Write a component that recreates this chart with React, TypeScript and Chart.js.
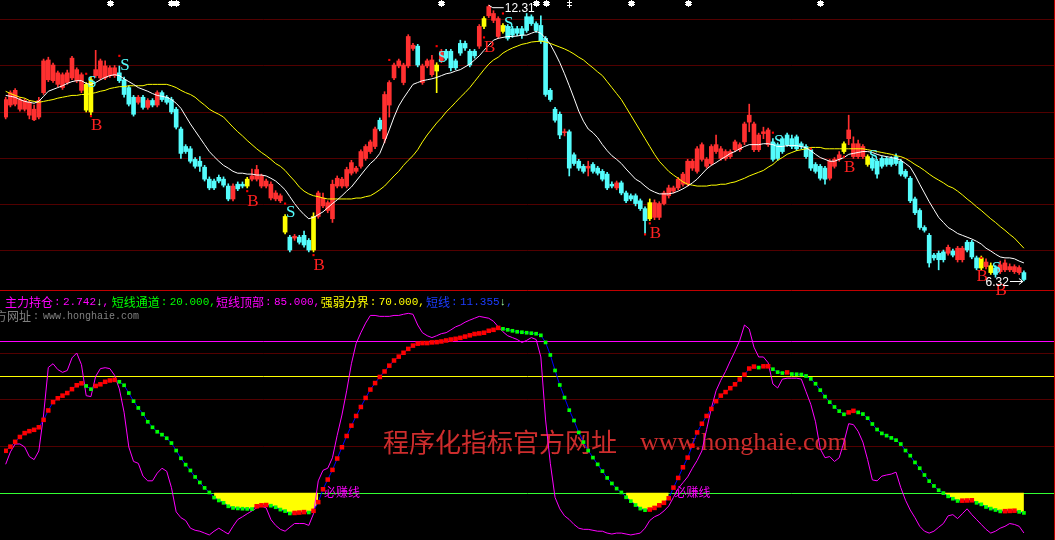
import React, { useEffect, useRef } from "react";
import { Chart, registerables } from "chart.js";
Chart.register(...registerables);

// ---------------- price panel data (216 bars) ----------------
const OPEN = [
  9.88, 10.14, 10.16, 10.05, 10.05, 9.92, 9.82, 9.88, 10.41, 10.69,
  10.67, 10.59, 10.52, 10.63, 10.73, 10.67, 10.46, 10.59, 9.99, 10.78,
  10.73, 10.73, 10.78, 10.78, 10.84, 10.69, 10.52, 10.31, 10.2, 10.31,
  10.09, 10.24, 10.14, 10.41, 10.31, 10.26, 10.05, 9.62, 9.24, 9.19,
  8.96, 8.92, 8.79, 8.53, 8.49, 8.57, 8.53, 8.38, 8.1, 8.42,
  8.42, 8.38, 8.53, 8.53, 8.38, 8.38, 8.12, 8.1, 8.06, 7.72,
  7.27, 7.25, 7.27, 7.31, 7.2, 6.99, 7.72, 7.95, 7.85, 7.67,
  8.38, 8.38, 8.38, 8.66, 8.7, 8.81, 8.98, 9.13, 9.24, 9.81,
  9.41, 10.14, 10.73, 10.99, 10.63, 10.99, 11.37, 11.42, 10.63, 10.99,
  10.8, 11.01, 11.1, 11.31, 11.31, 11.1, 11.48, 11.48, 11.31, 11.31,
  11.42, 11.85, 12.08, 11.98, 11.63, 11.87, 11.85, 11.8, 11.8, 11.8,
  12.06, 12.06, 11.91, 11.87, 11.59, 10.46, 10.05, 9.94, 9.54, 9.56,
  9.06, 8.92, 8.81, 8.77, 8.85, 8.77, 8.7, 8.64, 8.42, 8.34,
  8.45, 8.23, 8.17, 8.17, 8.06, 7.89, 7.67, 7.7, 7.7, 8.0,
  8.17, 8.27, 8.34, 8.42, 8.42, 8.77, 8.7, 8.96, 8.81, 8.87,
  9.13, 8.98, 8.98, 9.02, 9.17, 9.17, 9.34, 9.77, 9.17, 9.17,
  9.52, 9.28, 9.34, 9.28, 9.41, 9.49, 9.41, 9.45, 9.3, 9.24,
  9.17, 8.85, 8.81, 8.77, 8.55, 8.81, 8.96, 9.13, 9.41, 9.02,
  9.02, 9.02, 9.02, 8.98, 8.92, 8.98, 8.98, 8.98, 9.02, 8.92,
  8.7, 8.55, 8.1, 7.85, 7.48, 7.31, 6.88, 6.92, 6.95, 6.92,
  6.97, 6.78, 6.78, 7.16, 7.16, 6.82, 6.6, 6.63, 6.65, 6.6,
  6.52, 6.56, 6.56, 6.52, 6.5, 6.5
];
const HIGH = [
  10.31, 10.45, 10.5, 10.3, 10.28, 10.24, 10.14, 10.31, 11.14, 11.18,
  11.05, 10.88, 10.84, 10.9, 11.2, 10.95, 10.84, 10.63, 10.75, 11.33,
  11.14, 11.1, 10.99, 11.0, 10.99, 10.75, 10.56, 10.35, 10.35, 10.35,
  10.28, 10.28, 10.45, 10.45, 10.35, 10.31, 10.09, 9.66, 9.28, 9.24,
  9.0, 9.02, 8.83, 8.58, 8.53, 8.62, 8.58, 8.43, 8.43, 8.47,
  8.47, 8.57, 8.75, 8.83, 8.64, 8.53, 8.47, 8.28, 8.21, 7.76,
  7.31, 7.33, 7.31, 7.4, 7.24, 7.8, 8.27, 8.23, 8.06, 8.51,
  8.6, 8.57, 8.79, 8.94, 8.81, 9.17, 9.28, 9.38, 9.66, 9.86,
  10.43, 10.67, 11.05, 11.14, 11.05, 11.67, 11.48, 11.46, 11.03, 11.14,
  11.22, 11.06, 11.35, 11.35, 11.35, 11.14, 11.55, 11.53, 11.35, 11.35,
  11.89, 12.06, 12.31, 12.19, 12.06, 11.91, 11.89, 11.85, 11.85, 11.85,
  12.13, 12.1, 11.95, 12.08, 11.63, 10.5, 10.09, 9.99, 9.62, 9.6,
  9.1, 8.96, 8.85, 8.92, 8.89, 8.81, 8.74, 8.68, 8.47, 8.49,
  8.49, 8.27, 8.21, 8.21, 8.1, 7.93, 8.1, 8.08, 8.04, 8.27,
  8.4, 8.38, 8.57, 8.68, 8.96, 8.96, 9.24, 9.32, 9.0, 9.28,
  9.49, 9.24, 9.17, 9.17, 9.38, 9.32, 9.77, 10.16, 9.77, 9.53,
  9.66, 9.64, 9.41, 9.32, 9.45, 9.53, 9.49, 9.49, 9.34, 9.28,
  9.21, 8.89, 8.85, 8.81, 8.96, 9.0, 9.13, 9.34, 9.92, 9.45,
  9.38, 9.28, 9.06, 9.02, 8.96, 9.02, 9.02, 9.02, 9.08, 8.96,
  8.74, 8.59, 8.14, 7.89, 7.52, 7.35, 6.92, 6.97, 6.99, 7.1,
  7.01, 7.07, 7.07, 7.2, 7.2, 6.86, 6.86, 6.8, 6.71, 6.65,
  6.75, 6.78, 6.69, 6.67, 6.65, 6.54
];
const LOW = [
  9.84, 10.1, 10.12, 10.01, 10.01, 9.84, 9.8, 9.84, 10.37, 10.65,
  10.63, 10.54, 10.48, 10.59, 10.69, 10.63, 10.41, 9.99, 9.93, 10.74,
  10.69, 10.69, 10.74, 10.74, 10.63, 10.31, 10.12, 9.9, 10.16, 10.05,
  10.05, 10.1, 10.1, 10.22, 10.16, 9.95, 9.62, 8.98, 9.09, 8.88,
  8.77, 8.7, 8.49, 8.3, 8.3, 8.45, 8.36, 8.06, 8.06, 8.28,
  8.34, 8.34, 8.49, 8.49, 8.34, 8.34, 8.08, 8.06, 8.02, 7.34,
  6.95, 7.2, 7.12, 7.05, 6.95, 6.95, 7.68, 7.91, 7.8, 7.59,
  8.34, 8.34, 8.34, 8.62, 8.66, 8.77, 8.94, 9.09, 9.19, 9.58,
  9.32, 9.88, 10.69, 10.95, 10.58, 10.95, 11.33, 10.97, 10.59, 10.95,
  10.76, 10.41, 11.06, 11.12, 10.88, 10.91, 11.22, 11.33, 10.97, 11.16,
  11.37, 11.8, 12.04, 11.93, 11.59, 11.7, 11.55, 11.61, 11.65, 11.59,
  11.72, 11.87, 11.72, 11.48, 10.33, 10.22, 9.77, 9.41, 9.47, 8.6,
  8.83, 8.72, 8.66, 8.6, 8.66, 8.62, 8.49, 8.3, 8.34, 8.3,
  8.19, 8.02, 8.06, 7.95, 7.85, 7.35, 7.63, 7.65, 7.65, 7.97,
  8.12, 8.23, 8.3, 8.38, 8.38, 8.72, 8.66, 8.92, 8.77, 8.83,
  9.09, 8.94, 8.94, 8.98, 9.13, 9.13, 9.28, 9.56, 9.13, 9.13,
  9.41, 9.24, 8.92, 8.94, 9.09, 9.24, 9.19, 9.15, 9.19, 8.98,
  8.72, 8.66, 8.51, 8.42, 8.51, 8.77, 8.92, 9.09, 9.28, 8.98,
  8.98, 8.98, 8.81, 8.72, 8.55, 8.77, 8.81, 8.81, 8.83, 8.6,
  8.55, 8.02, 7.76, 7.44, 7.38, 6.62, 6.77, 6.56, 6.73, 6.88,
  6.84, 6.73, 6.73, 6.95, 6.8, 6.56, 6.56, 6.58, 6.46, 6.4,
  6.48, 6.52, 6.52, 6.48, 6.46, 6.32
];
const CLOSE = [
  10.26, 10.41, 10.46, 10.26, 10.24, 10.2, 10.05, 10.24, 11.1, 11.12,
  11.01, 10.84, 10.8, 10.84, 11.16, 10.91, 10.8, 10.03, 10.69, 10.91,
  11.1, 10.99, 10.95, 10.95, 10.67, 10.37, 10.16, 9.94, 10.31, 10.09,
  10.24, 10.14, 10.41, 10.26, 10.2, 9.99, 9.66, 9.09, 9.13, 8.92,
  8.81, 8.81, 8.53, 8.34, 8.34, 8.49, 8.4, 8.1, 8.38, 8.32,
  8.38, 8.53, 8.6, 8.74, 8.6, 8.49, 8.42, 8.23, 8.17, 7.38,
  6.99, 7.29, 7.16, 7.1, 6.99, 7.72, 8.23, 8.12, 8.02, 8.42,
  8.55, 8.53, 8.74, 8.89, 8.77, 9.13, 9.24, 9.34, 9.62, 9.62,
  10.37, 10.63, 11.01, 11.1, 11.01, 11.63, 11.44, 11.01, 10.99, 11.1,
  11.12, 10.88, 11.31, 11.16, 10.95, 10.95, 11.27, 11.38, 11.01, 11.21,
  11.85, 12.02, 12.28, 12.13, 12.02, 11.74, 11.59, 11.66, 11.7, 11.66,
  11.76, 11.91, 11.76, 11.53, 10.37, 10.26, 9.81, 9.49, 9.56, 8.77,
  8.87, 8.77, 8.7, 8.81, 8.7, 8.66, 8.53, 8.34, 8.38, 8.45,
  8.23, 8.06, 8.1, 8.0, 7.89, 7.63, 8.02, 8.02, 8.0, 8.23,
  8.34, 8.34, 8.53, 8.64, 8.92, 8.92, 9.19, 9.28, 8.96, 9.24,
  9.28, 9.19, 9.13, 9.13, 9.34, 9.28, 9.73, 9.92, 9.73, 9.49,
  9.56, 9.6, 8.96, 8.98, 9.13, 9.28, 9.24, 9.19, 9.24, 9.02,
  8.77, 8.7, 8.55, 8.53, 8.92, 8.96, 9.06, 9.3, 9.6, 9.3,
  9.3, 9.24, 8.85, 8.77, 8.64, 8.81, 8.85, 8.85, 8.87, 8.64,
  8.59, 8.06, 7.8, 7.48, 7.42, 6.71, 6.82, 6.78, 6.78, 7.05,
  6.88, 7.03, 7.03, 6.99, 6.84, 6.6, 6.82, 6.73, 6.5, 6.46,
  6.67, 6.71, 6.63, 6.63, 6.61, 6.35
];
const MA_WHITE = [
  10.35, 10.33, 10.31, 10.26, 10.22, 10.2, 10.18, 10.22, 10.33, 10.44,
  10.48, 10.52, 10.56, 10.61, 10.65, 10.67, 10.67, 10.61, 10.59, 10.63,
  10.69, 10.74, 10.78, 10.8, 10.78, 10.71, 10.65, 10.59, 10.52, 10.48,
  10.44, 10.39, 10.35, 10.33, 10.31, 10.26, 10.18, 10.07, 9.9, 9.73,
  9.58, 9.43, 9.28, 9.13, 9.02, 8.92, 8.83, 8.77, 8.7, 8.66,
  8.66, 8.64, 8.64, 8.62, 8.62, 8.6, 8.55, 8.49, 8.4, 8.3,
  8.15, 8.0, 7.87, 7.76, 7.67, 7.7, 7.76, 7.82, 7.91, 8.0,
  8.08, 8.17, 8.27, 8.36, 8.49, 8.62, 8.75, 8.87, 8.96, 9.09,
  9.34, 9.6, 9.88, 10.12, 10.29, 10.44, 10.59, 10.63, 10.67, 10.69,
  10.71, 10.74, 10.78, 10.82, 10.84, 10.88, 10.91, 10.97, 11.03, 11.12,
  11.21, 11.33, 11.44, 11.55, 11.59, 11.61, 11.63, 11.63, 11.64, 11.66,
  11.66, 11.7, 11.74, 11.7, 11.59, 11.46, 11.27, 11.06, 10.82, 10.56,
  10.29, 10.01, 9.79, 9.62, 9.54, 9.43, 9.28, 9.15, 9.04, 8.96,
  8.87, 8.75, 8.64, 8.53, 8.47, 8.38, 8.3, 8.25, 8.21, 8.21,
  8.21, 8.23, 8.27, 8.32, 8.38, 8.45, 8.53, 8.64, 8.75, 8.83,
  8.89, 8.96, 9.02, 9.09, 9.13, 9.19, 9.24, 9.28, 9.28, 9.28,
  9.3, 9.3, 9.28, 9.24, 9.24, 9.26, 9.26, 9.26, 9.24, 9.21,
  9.15, 9.07, 9.0, 8.96, 8.92, 8.92, 8.96, 9.0, 9.07, 9.09,
  9.11, 9.13, 9.13, 9.11, 9.07, 9.04, 9.02, 9.0, 8.98, 8.94,
  8.87, 8.79, 8.62, 8.42, 8.23, 8.04, 7.87, 7.7, 7.59, 7.48,
  7.42, 7.35, 7.31, 7.27, 7.23, 7.18, 7.12, 7.03, 6.97, 6.9,
  6.84, 6.82, 6.82, 6.8, 6.75, 6.71
];
const MA_YELLOW = [
  10.44, 10.39, 10.35, 10.31, 10.29, 10.24, 10.22, 10.2, 10.22, 10.24,
  10.26, 10.29, 10.31, 10.33, 10.35, 10.35, 10.37, 10.37, 10.39, 10.41,
  10.44, 10.46, 10.5, 10.52, 10.54, 10.54, 10.56, 10.56, 10.56, 10.56,
  10.59, 10.59, 10.59, 10.59, 10.59, 10.56, 10.52, 10.46, 10.41, 10.37,
  10.31, 10.22, 10.14, 10.05, 9.99, 9.94, 9.88, 9.77, 9.66, 9.56,
  9.47, 9.37, 9.28, 9.19, 9.11, 9.04, 8.96, 8.87, 8.81, 8.72,
  8.6, 8.49, 8.36, 8.27, 8.21, 8.17, 8.15, 8.12, 8.1, 8.1,
  8.1, 8.1, 8.1, 8.1, 8.12, 8.12, 8.15, 8.17, 8.23, 8.3,
  8.38, 8.49, 8.6, 8.7, 8.83, 8.94, 9.04, 9.17, 9.34, 9.49,
  9.62, 9.75, 9.86, 9.99, 10.09, 10.2, 10.31, 10.41, 10.52, 10.65,
  10.78, 10.91, 11.03, 11.12, 11.18, 11.27, 11.33, 11.38, 11.42, 11.46,
  11.48, 11.51, 11.52, 11.53, 11.51, 11.48, 11.44, 11.4, 11.36, 11.31,
  11.25, 11.18, 11.12, 11.03, 10.95, 10.86, 10.78, 10.65, 10.52, 10.39,
  10.26, 10.09, 9.92, 9.75, 9.58, 9.41, 9.24, 9.07, 8.92, 8.81,
  8.7, 8.62, 8.55, 8.47, 8.42, 8.4, 8.38, 8.38, 8.38, 8.4,
  8.4, 8.42, 8.42, 8.45, 8.47, 8.51, 8.55, 8.6, 8.64, 8.68,
  8.72, 8.79, 8.85, 8.94, 9.0, 9.07, 9.11, 9.15, 9.17, 9.19,
  9.22, 9.22, 9.22, 9.19, 9.19, 9.19, 9.19, 9.19, 9.19, 9.19,
  9.19, 9.19, 9.17, 9.15, 9.13, 9.11, 9.09, 9.07, 9.04, 9.02,
  8.98, 8.92, 8.85, 8.79, 8.72, 8.64, 8.57, 8.51, 8.45, 8.38,
  8.34, 8.27, 8.19, 8.1, 8.02, 7.93, 7.85, 7.76, 7.67, 7.59,
  7.5, 7.42, 7.33, 7.25, 7.14, 7.03
];
const SIGNAL_BARS = [17, 18, 51, 59, 65, 91, 101, 105, 136, 177, 182, 206, 208];
const BUY_MARKS = [[19, 9.69], [52, 8.04], [66, 6.65], [102, 11.40], [137, 7.35], [178, 8.79], [206, 6.41], [210, 6.11]];
const SELL_MARKS = [[18, 10.63], [25, 11.0], [60, 7.8], [92, 11.18], [106, 11.91], [163, 9.34], [183, 9.02], [209, 6.58]];
const ALERT_DOTS = [
  [24, 11.21], [17, 10.82], [18, 9.9], [51, 8.27], [59, 8.0], [65, 6.88], [81, 11.12], [91, 11.42],
  [101, 11.61], [105, 12.13], [135, 7.33], [136, 7.57], [162, 9.54], [170, 9.19], [177, 9.02], [206, 6.82]
];
const TOP_FLAGS = [22, 35, 36, 92, 112, 114, 132, 144, 172];
const TOP_DAGGERS = [119];
const PRICE_GRID = [7, 8, 9, 10, 11, 12];

// ---------------- indicator panel data ----------------
const MAIN_HOLD = [
  32.2, 37.5, 40.9, 40.9, 39.6, 35.5, 34.2, 37.9, 53.3, 73.7,
  75.3, 72.8, 71.6, 72.4, 77.8, 79.9, 74.9, 61.6, 61.2, 69.9,
  73.2, 73.6, 73.2, 70.3, 64.5, 54.5, 39.6, 33.4, 32.6, 27.1,
  25.1, 25.1, 28.4, 30.5, 29.2, 22.2, 11.8, 9.3, 8.1, 4.8,
  3.9, 3.5, 2.7, 1.9, 3.5, 4.8, 3.5, 2.3, 5.6, 8.5,
  9.7, 11.0, 12.2, 13.5, 14.3, 13.5, 8.5, 6.0, 4.3, 3.5,
  5.2, 6.8, 6.8, 6.8, 6.0, 11.0, 25.1, 29.6, 30.5, 35.0,
  44.6, 53.3, 63.7, 75.3, 84.0, 88.6, 92.7, 96.0, 96.0, 95.6,
  95.6, 95.6, 96.0, 96.0, 96.5, 96.9, 96.5, 91.9, 88.6, 87.3,
  86.5, 87.3, 88.2, 88.6, 89.8, 91.1, 91.9, 93.1, 94.0, 94.8,
  95.6, 95.2, 94.8, 93.5, 91.1, 89.0, 87.3, 86.5, 85.7, 84.4,
  85.3, 86.5, 85.7, 78.2, 51.2, 32.6, 18.0, 13.1, 10.1, 8.5,
  6.4, 4.8, 4.3, 4.3, 3.9, 3.5, 3.5, 2.7, 2.3, 2.7,
  2.7, 2.3, 1.9, 2.3, 2.7, 4.8, 8.1, 9.7, 10.6, 12.2,
  14.3, 18.0, 21.8, 24.3, 26.8, 30.5, 33.8, 37.9, 47.1, 56.2,
  63.7, 68.2, 72.0, 76.5, 80.7, 85.3, 91.9, 90.2, 82.4, 78.2,
  78.2, 75.7, 66.6, 64.9, 68.7, 69.1, 69.1, 69.1, 68.7, 63.3,
  57.9, 50.4, 38.8, 35.0, 35.5, 33.4, 35.0, 41.7, 49.6, 49.2,
  46.3, 41.7, 34.2, 25.5, 25.1, 27.1, 27.6, 28.0, 28.8, 22.2,
  16.8, 12.6, 9.3, 5.6, 3.5, 2.7, 3.5, 5.2, 6.8, 10.1,
  10.6, 8.9, 11.0, 13.1, 10.6, 8.5, 6.4, 4.3, 2.7, 3.5,
  4.8, 5.6, 6.8, 6.4, 5.6, 2.742
];
const SHORT_LINE = [
  37.97, 39.75, 41.83, 43.9, 45.56, 46.39, 46.97, 48.05, 51.24, 55.27,
  58.84, 60.5, 61.62, 62.74, 64.4, 66.06, 66.89, 65.77, 64.4, 65.77,
  66.47, 67.55, 68.13, 68.38, 67.55, 66.06, 62.74, 59.25, 56.35, 53.73,
  50.41, 48.05, 46.14, 44.9, 43.36, 41.29, 38.09, 34.77, 32.03, 29.54,
  26.76, 24.4, 22.07, 20.12, 17.93, 16.68, 15.68, 14.19, 13.49, 13.28,
  13.15, 13.07, 12.99, 14.19, 14.61, 14.73, 14.44, 13.78, 12.78, 12.12,
  11.12, 11.33, 11.49, 11.7, 11.54, 12.24, 15.98, 21.49, 25.64, 29.79,
  34.65, 39.5, 44.32, 48.76, 52.9, 56.76, 60.66, 64.23, 67.01, 69.63,
  71.99, 74.48, 76.68, 78.34, 80.0, 81.66, 83.07, 83.9, 84.15, 84.15,
  84.44, 84.56, 84.85, 85.27, 85.68, 85.98, 86.39, 86.93, 87.47, 88.05,
  88.3, 88.59, 89.42, 89.83, 90.66, 90.25, 89.83, 89.42, 89.0, 88.8,
  88.59, 88.38, 88.17, 87.47, 84.44, 79.05, 72.41, 66.18, 60.79, 55.39,
  50.95, 45.85, 41.7, 38.09, 35.06, 32.16, 29.25, 26.35, 23.98, 21.78,
  20.12, 18.05, 16.39, 14.73, 13.2, 12.53, 12.78, 13.49, 14.61, 15.68,
  17.63, 22.2, 26.35, 30.91, 35.06, 40.17, 45.85, 49.59, 52.9, 55.93,
  59.25, 61.62, 63.15, 64.81, 66.47, 68.55, 70.62, 73.24, 74.07, 73.65,
  74.19, 74.19, 72.95, 71.7, 71.29, 71.58, 70.87, 70.79, 70.66, 70.04,
  68.8, 66.72, 63.98, 61.2, 58.84, 56.76, 54.98, 53.61, 54.44, 55.1,
  54.44, 53.73, 51.95, 49.46, 47.1, 45.44, 44.48, 43.49, 42.53, 40.87,
  38.09, 35.89, 32.99, 30.5, 27.59, 24.98, 22.9, 21.08, 19.83, 18.46,
  17.43, 16.47, 16.6, 16.68, 16.76, 15.68, 15.02, 13.9, 13.2, 12.6,
  12.0, 12.1, 12.2, 12.3, 11.8, 11.355
];
const CHANNEL_LEVEL = 20;   // 短线通道
const TOP_LEVEL = 85;       // 短线顶部
const DIVIDE_LEVEL = 70;    // 强弱分界
const IND_GRID = [40, 60, 80];

// ---------------- layout constants ----------------
const W = 1055;
const TOP_H = 290;
const BOT_H = 250;
const X_MIN = -0.356;
const X_MAX = 220.72;
const P_MIN = 6.122;
const P_MAX = 12.336;
const V_MIN = 1.45;
const V_MAX = 105.19;

const UP = "#ff3030";
const DOWN = "#54fcfc";
const SIG = "#ffff00";
const CJK = '"Noto Sans CJK SC", "Noto Sans CJK JP", sans-serif';

const idx = OPEN.map((_, i) => i);
const candleColor = (i: number) =>
  SIGNAL_BARS.includes(i) ? SIG : CLOSE[i] >= OPEN[i] ? UP : DOWN;

function topConfig(): any {
  const plugin = {
    id: "topDecor",
    beforeDatasetsDraw(chart: any) {
      const { ctx, scales } = chart;
      ctx.save();
      ctx.strokeStyle = "#520000";
      ctx.lineWidth = 1;
      PRICE_GRID.forEach((v) => {
        const y = Math.round(scales.y.getPixelForValue(v)) + 0.5;
        ctx.beginPath();
        ctx.moveTo(0, y);
        ctx.lineTo(W, y);
        ctx.stroke();
      });
      ctx.restore();
    },
    afterDatasetsDraw(chart: any) {
      const { ctx, scales } = chart;
      const xs = scales.x, ys = scales.y;
      ctx.save();
      ctx.font = '17px "Liberation Serif", serif';
      ctx.textAlign = "center";
      ctx.textBaseline = "middle";
      ctx.fillStyle = "#ff2020";
      BUY_MARKS.forEach(([b, p]) => ctx.fillText("B", xs.getPixelForValue(b) + 1, ys.getPixelForValue(p)));
      ctx.fillStyle = DOWN;
      SELL_MARKS.forEach(([b, p]) => ctx.fillText("S", xs.getPixelForValue(b) + 1, ys.getPixelForValue(p)));

      // top flags
      ctx.fillStyle = "#ffffff";
      TOP_FLAGS.forEach((b) => {
        const x = Math.round(xs.getPixelForValue(b));
        ctx.fillRect(x - 2, 1, 5, 5);
        ctx.fillRect(x - 3, 2, 7, 1);
        ctx.fillRect(x - 3, 4, 7, 1);
        ctx.fillRect(x, 0, 1, 7);
      });
      TOP_DAGGERS.forEach((b) => {
        const x = Math.round(xs.getPixelForValue(b));
        ctx.fillRect(x, 0, 1, 8);
        ctx.fillRect(x - 2, 2, 5, 1);
        ctx.fillRect(x - 2, 5, 5, 1);
      });

      // high / low labels
      let hi = 0, lo = 0;
      HIGH.forEach((v, i) => { if (v > HIGH[hi]) hi = i; });
      LOW.forEach((v, i) => { if (v < LOW[lo]) lo = i; });
      const hx = xs.getPixelForValue(hi), hy = ys.getPixelForValue(HIGH[hi]);
      ctx.strokeStyle = "#ffffff";
      ctx.lineWidth = 1;
      ctx.beginPath();
      ctx.moveTo(hx, hy);
      ctx.lineTo(hx + 4, hy + 2.5);
      ctx.lineTo(hx + 15, hy + 2.5);
      ctx.stroke();
      ctx.font = '12px "Liberation Sans", sans-serif';
      ctx.textAlign = "left";
      ctx.fillStyle = "#ffffff";
      ctx.fillText(HIGH[hi].toFixed(2), hx + 16, hy + 3);

      const lx = xs.getPixelForValue(lo), ly = Math.round(ys.getPixelForValue(LOW[lo])) + 0.5;
      ctx.beginPath();
      ctx.moveTo(lx - 14, ly);
      ctx.lineTo(lx - 1, ly);
      ctx.moveTo(lx - 5, ly - 3);
      ctx.lineTo(lx - 1, ly);
      ctx.lineTo(lx - 5, ly + 3);
      ctx.stroke();
      ctx.textAlign = "right";
      ctx.fillText(LOW[lo].toFixed(2), lx - 15, ly + 1);

      ctx.strokeStyle = "#c00000";
      ctx.beginPath();
      ctx.moveTo(W - 0.5, 0);
      ctx.lineTo(W - 0.5, TOP_H);
      ctx.stroke();
      ctx.restore();
    },
  };

  return {
    type: "bar",
    data: {
      datasets: [
        {
          type: "line",
          data: idx.map((i) => ({ x: i, y: MA_WHITE[i] })),
          borderColor: "#ffffff",
          borderWidth: 1,
          pointRadius: 0,
          order: 1,
        },
        {
          type: "line",
          data: idx.map((i) => ({ x: i, y: MA_YELLOW[i] })),
          borderColor: "#ffff00",
          borderWidth: 1,
          pointRadius: 0,
          order: 1,
        },
        {
          type: "scatter",
          data: ALERT_DOTS.map(([b, p]) => ({ x: b, y: p })),
          pointStyle: "rect",
          pointRadius: 1.5,
          pointBackgroundColor: "#ff0000",
          pointBorderWidth: 0,
          order: 0,
        },
        {
          type: "bar",
          data: idx.map((i) => ({ x: i, y: [OPEN[i], CLOSE[i]] })),
          backgroundColor: idx.map(candleColor),
          barThickness: 4,
          minBarLength: 1,
          grouped: false,
          borderWidth: 0,
          order: 2,
        },
        {
          type: "bar",
          data: idx.map((i) => ({ x: i, y: [LOW[i], HIGH[i]] })),
          backgroundColor: idx.map(candleColor),
          barThickness: 1,
          grouped: false,
          borderWidth: 0,
          order: 3,
        },
      ],
    },
    options: {
      animation: false,
      responsive: false,
      maintainAspectRatio: false,
      events: [],
      layout: { padding: { left: 0, right: 0, top: 0, bottom: 8 } },
      plugins: { legend: { display: false }, tooltip: { enabled: false } },
      scales: {
        x: { type: "linear", min: X_MIN, max: X_MAX, offset: false, display: false },
        y: { type: "linear", min: P_MIN, max: P_MAX, display: false },
      },
    },
    plugins: [plugin],
  };
}

function botConfig(): any {
  const rising = (i: number) => i === 0 || SHORT_LINE[i] >= SHORT_LINE[i - 1];
  const plugin = {
    id: "botDecor",
    beforeDatasetsDraw(chart: any) {
      const { ctx, scales } = chart;
      const ys = scales.y;
      ctx.save();
      ctx.lineWidth = 1;
      ctx.strokeStyle = "#c00000";
      ctx.beginPath();
      ctx.moveTo(0, 0.5);
      ctx.lineTo(W, 0.5);
      ctx.stroke();
      ctx.strokeStyle = "#520000";
      IND_GRID.forEach((v) => {
        const y = Math.round(ys.getPixelForValue(v)) + 0.5;
        ctx.beginPath();
        ctx.moveTo(0, y);
        ctx.lineTo(W, y);
        ctx.stroke();
      });
      const level = (v: number, c: string) => {
        const y = Math.round(ys.getPixelForValue(v)) + 0.5;
        ctx.strokeStyle = c;
        ctx.beginPath();
        ctx.moveTo(0, y);
        ctx.lineTo(W, y);
        ctx.stroke();
      };
      level(TOP_LEVEL, "#ff00ff");
      level(DIVIDE_LEVEL, "#ffff00");
      level(CHANNEL_LEVEL, "#33ff33");

      ctx.fillStyle = "rgb(205,45,45)";
      ctx.textBaseline = "middle";
      ctx.textAlign = "left";
      ctx.font = "26px " + CJK;
      ctx.fillText("程序化指标官方网址", 383, 152);
      ctx.font = '26px "Liberation Serif", serif';
      ctx.fillText("www.honghaie.com", 640, 153);
      ctx.restore();
    },
    afterDatasetsDraw(chart: any) {
      const { ctx, scales } = chart;
      const xs = scales.x, ys = scales.y;
      ctx.save();
      ctx.textBaseline = "middle";
      ctx.textAlign = "left";
      const n = SHORT_LINE.length;
      const legend: [string, number, string, boolean][] = [
        ["主力持仓", MAIN_HOLD[n - 1], "#ff00ff", MAIN_HOLD[n - 1] < MAIN_HOLD[n - 2]],
        ["短线通道", CHANNEL_LEVEL, "#00ff00", false],
        ["短线顶部", TOP_LEVEL, "#ff00ff", false],
        ["强弱分界", DIVIDE_LEVEL, "#ffff00", false],
        ["短线", SHORT_LINE[n - 1], "#1c3cff", SHORT_LINE[n - 1] < SHORT_LINE[n - 2]],
      ];
      const starts = [5, 111.7, 216, 320.7, 426];
      legend.forEach(([name, val, color, down], k) => {
        const x0 = starts[k];
        const y = 12;
        ctx.fillStyle = color;
        ctx.font = "12px " + CJK;
        ctx.fillText(name, x0, y);
        const vx = x0 + 12 * name.length + 10;
        ctx.font = '11px "Liberation Mono", monospace';
        ctx.fillText(":", x0 + 12 * name.length + 1, y);
        const s = val.toFixed(3);
        ctx.fillText(s, vx, y);
        let ex = vx + ctx.measureText(s).width;
        if (down) {
          ctx.fillStyle = "#9fff9f";
          ctx.fillText("↓", ex, y);
          ex += ctx.measureText("↓").width;
          ctx.fillStyle = color;
        }
        ctx.fillText(",", ex, y);
      });

      ctx.fillStyle = "#808080";
      ctx.font = "12px " + CJK;
      ctx.fillText("官方网址", -17, 26);
      ctx.font = '10px "Liberation Mono", monospace';
      ctx.fillText(":", 33, 26);
      ctx.fillText("www.honghaie.com", 43, 26);

      ctx.fillStyle = "#ff00ff";
      ctx.font = "12px " + CJK;
      for (let i = 1; i < n; i++) {
        if (SHORT_LINE[i - 1] < CHANNEL_LEVEL && SHORT_LINE[i] >= CHANNEL_LEVEL) {
          ctx.fillText("必赚线", xs.getPixelForValue(i) + 1, ys.getPixelForValue(CHANNEL_LEVEL));
        }
      }

      ctx.strokeStyle = "#c00000";
      ctx.lineWidth = 1;
      ctx.beginPath();
      ctx.moveTo(W - 0.5, 0);
      ctx.lineTo(W - 0.5, BOT_H);
      ctx.stroke();
      ctx.restore();
    },
  };

  return {
    type: "line",
    data: {
      datasets: [
        {
          data: idx.map((i) => ({ x: i, y: SHORT_LINE[i] < CHANNEL_LEVEL ? SHORT_LINE[i] : null })),
          fill: { value: CHANNEL_LEVEL },
          backgroundColor: "#ffff00",
          borderWidth: 0,
          borderColor: "rgba(0,0,0,0)",
          pointRadius: 0,
          spanGaps: false,
          order: 4,
        },
        {
          data: idx.map((i) => ({ x: i, y: MAIN_HOLD[i] })),
          borderColor: "#ff00ff",
          borderWidth: 1,
          pointRadius: 0,
          fill: false,
          order: 3,
        },
        {
          data: idx.map((i) => ({ x: i, y: SHORT_LINE[i] })),
          borderColor: "#0000ff",
          borderWidth: 1,
          fill: false,
          pointStyle: "rect",
          pointRadius: idx.map((i) => (rising(i) ? 3.2 : 2.6)),
          pointBackgroundColor: idx.map((i) => (rising(i) ? "#ff0000" : "#00ff00")),
          pointBorderWidth: 0,
          order: 1,
        },
      ],
    },
    options: {
      animation: false,
      responsive: false,
      maintainAspectRatio: false,
      events: [],
      layout: { padding: 0 },
      plugins: { legend: { display: false }, tooltip: { enabled: false } },
      scales: {
        x: { type: "linear", min: X_MIN, max: X_MAX, offset: false, display: false },
        y: { type: "linear", min: V_MIN, max: V_MAX, display: false },
      },
    },
    plugins: [plugin],
  };
}

export default function App() {
  const topRef = useRef<HTMLCanvasElement>(null);
  const botRef = useRef<HTMLCanvasElement>(null);
  useEffect(() => {
    document.body.style.margin = "0";
    document.body.style.background = "#000";
    document.body.style.overflow = "hidden";
    const top = new Chart(topRef.current as HTMLCanvasElement, topConfig());
    const bot = new Chart(botRef.current as HTMLCanvasElement, botConfig());
    return () => {
      top.destroy();
      bot.destroy();
    };
  }, []);
  return (
    <div style={{ position: "relative", width: W, height: 540, background: "#000", overflow: "hidden" }}>
      <canvas ref={botRef} width={W} height={BOT_H} style={{ position: "absolute", left: 0, top: TOP_H }} />
      <canvas ref={topRef} width={W} height={TOP_H + 8} style={{ position: "absolute", left: 0, top: 0 }} />
    </div>
  );
}
